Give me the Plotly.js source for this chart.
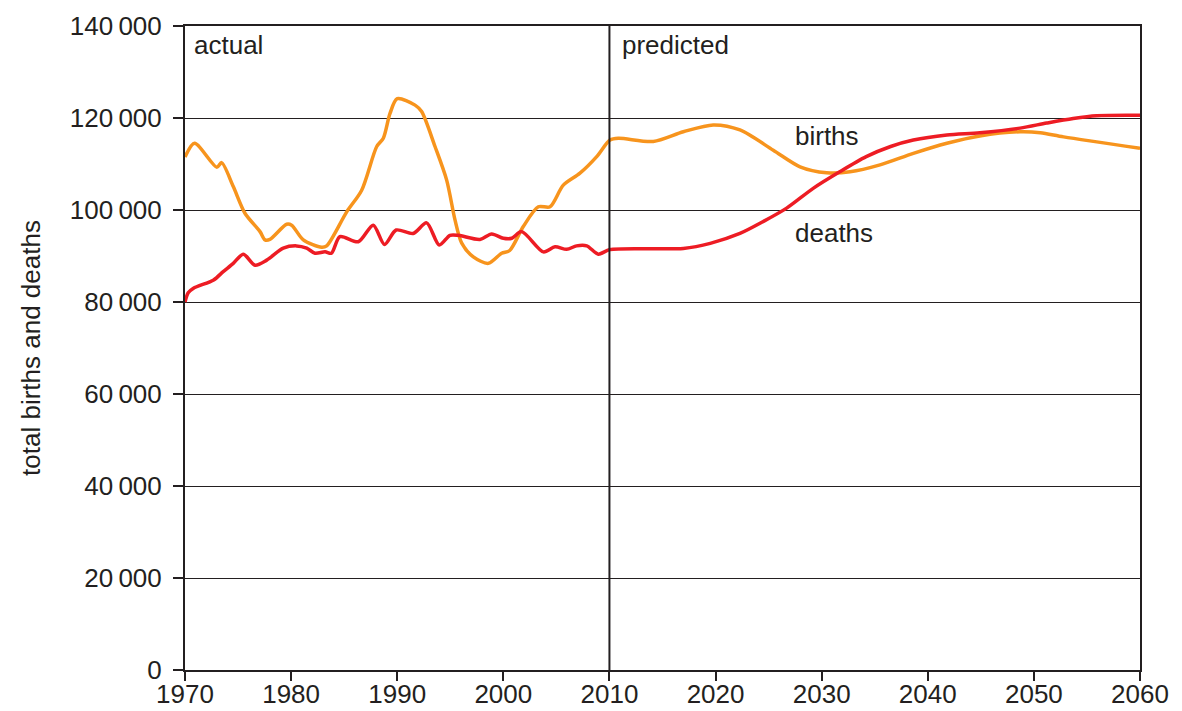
<!DOCTYPE html>
<html>
<head>
<meta charset="utf-8">
<script src="https://cdn.plot.ly/plotly-3.0.1.min.js"></script>
<style>
html,body{margin:0;padding:0;background:#fff;}
#chart{width:1182px;height:711px;}
</style>
</head>
<body>
<div id="chart"></div>
<script>
// ---- data ----
const birthYears = [1970.0,1970.9,1973.0,1973.45,1974.55,1975.65,1977.07,1977.54,1978.0,1979.58,1980.05,1981.15,1982.88,1983.35,1985.24,1986.65,1988.07,1988.69,1989.32,1990.0,1991.68,1992.3,1993.56,1994.66,1995.45,1996.08,1997.17,1998.59,1999.84,2000.6,2001.88,2003.3,2004.4,2005.65,2007.22,2008.8,2010.05,2010.84,2014.13,2016.96,2019.78,2022.3,2025.44,2027.96,2030.47,2032.67,2035.5,2038.64,2041.8,2044.9,2048.7,2050.6,2052.8,2060.0];
const births = [111500,114500,109300,110300,105100,99300,95300,93500,93600,96900,96700,93500,91900,92200,99600,104300,113800,115600,121000,124200,122800,121400,113800,106500,97800,92800,89800,88400,90600,91200,96400,100700,100700,105400,108000,111600,115200,115600,114900,117000,118500,117400,113000,109400,108100,108300,109800,112300,114500,116100,117000,116800,115900,113400];

const deathYears = [1970.0,1970.3,1970.8,1972.7,1973.6,1974.55,1975.5,1976.6,1977.7,1979.26,1980.5,1981.47,1982.25,1983.2,1983.8,1984.6,1986.33,1987.74,1988.8,1989.9,1991.5,1992.77,1993.96,1994.97,1995.76,1997.8,1998.9,2000.0,2000.8,2001.73,2003.77,2004.87,2005.97,2006.9,2007.86,2008.95,2010.05,2016.96,2019.5,2022.3,2024.5,2026.7,2029.2,2031.7,2034.2,2036.5,2038.64,2041.8,2044.9,2048.7,2051.2,2053.7,2055.9,2060.0];
const deaths = [80000,82000,83000,84800,86600,88400,90400,88000,89100,91700,92200,91700,90600,90900,90600,94200,93100,96700,92500,95650,94900,97200,92400,94500,94500,93600,94800,93850,93850,95300,90900,92000,91450,92200,92200,90400,91400,91650,92750,94900,97500,100400,104700,108300,111600,113800,115200,116300,116800,117800,118900,119900,120500,120600];

const xTicks = [1970,1980,1990,2000,2010,2020,2030,2040,2050,2060];
const yTicks = [0,20000,40000,60000,80000,100000,120000,140000];
const yTickText = ['0','20\u202F000','40\u202F000','60\u202F000','80\u202F000','100\u202F000','120\u202F000','140\u202F000'];

const ink = '#231F20';
const font = 'Liberation Sans, Arial, sans-serif';

const traces = [
  {x: birthYears, y: births, type: 'scatter', mode: 'lines', name: 'births',
   line: {color: '#F7941D', width: 3.5, shape: 'spline', smoothing: 0.8}, hoverinfo: 'x+y'},
  {x: deathYears, y: deaths, type: 'scatter', mode: 'lines', name: 'deaths',
   line: {color: '#ED1C24', width: 3.5, shape: 'spline', smoothing: 0.8}, hoverinfo: 'x+y'}
];

const layout = {
  width: 1182, height: 711,
  margin: {l: 185, r: 42, t: 26, b: 41, pad: 0},
  paper_bgcolor: '#fff', plot_bgcolor: '#fff',
  showlegend: false,
  font: {family: font, size: 26, color: ink},
  xaxis: {
    range: [1970, 2060], tickmode: 'array', tickvals: xTicks, ticktext: xTicks.map(String),
    showgrid: false, zeroline: false, showline: true, linecolor: ink, linewidth: 2, mirror: true,
    ticks: 'outside', ticklen: 9, tickwidth: 2, tickcolor: ink, ticklabelstandoff: -9,
    tickfont: {family: font, size: 26, color: ink}, fixedrange: true
  },
  yaxis: {
    range: [0, 140000], tickmode: 'array', tickvals: yTicks, ticktext: yTickText,
    showgrid: true, gridcolor: ink, gridwidth: 1, zeroline: false,
    showline: true, linecolor: ink, linewidth: 2, mirror: true,
    ticks: 'outside', ticklen: 10, tickwidth: 2, tickcolor: ink, ticklabelstandoff: 6,
    tickfont: {family: font, size: 26, color: ink},
    title: {text: 'total births and deaths', font: {family: font, size: 26, color: ink}, standoff: 22},
    fixedrange: true
  },
  shapes: [
    {type: 'line', xref: 'x', yref: 'paper', x0: 2010, x1: 2010, y0: 0, y1: 1, line: {color: ink, width: 2}}
  ],
  annotations: [
    {text: 'actual', x: 1970, y: 1, xref: 'x', yref: 'paper', xanchor: 'left', yanchor: 'top', xshift: 7, yshift: -2, showarrow: false, font: {family: font, size: 26, color: ink}},
    {text: 'predicted', x: 2010, y: 1, xref: 'x', yref: 'paper', xanchor: 'left', yanchor: 'top', xshift: 11, yshift: -2, showarrow: false, font: {family: font, size: 26, color: ink}},
    {text: 'births', x: 2027.3, y: 116000, xref: 'x', yref: 'y', xanchor: 'left', yanchor: 'middle', showarrow: false, font: {family: font, size: 26, color: ink}},
    {text: 'deaths', x: 2027.3, y: 95000, xref: 'x', yref: 'y', xanchor: 'left', yanchor: 'middle', showarrow: false, font: {family: font, size: 26, color: ink}}
  ]
};

Plotly.newPlot('chart', traces, layout, {displayModeBar: false});
</script>
</body>
</html>
